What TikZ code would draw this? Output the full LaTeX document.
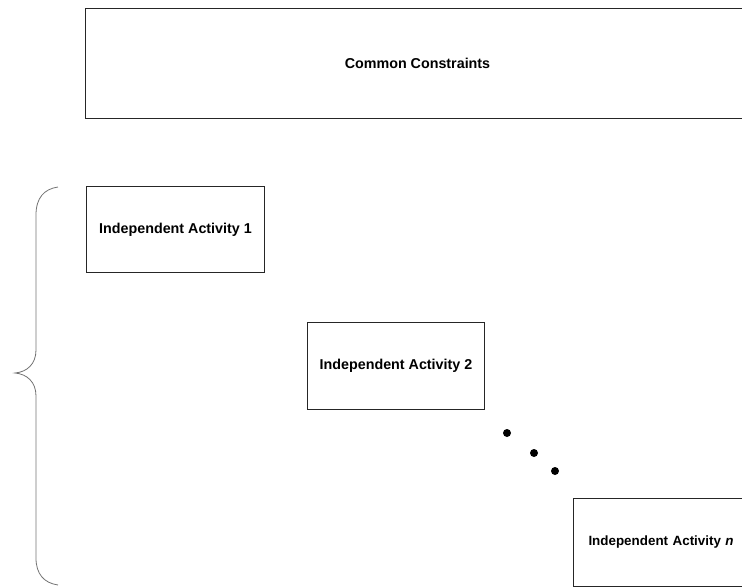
\documentclass[tikz,border=0pt]{standalone}
\usepackage{fontspec}
\setmainfont{Liberation Sans}
\begin{document}
\begin{tikzpicture}[x=1pt,y=1pt,
  box/.style={draw=black!85,line width=1pt,rectangle,inner sep=0pt,font=\bfseries\fontsize{14.3}{16}\selectfont},
  dotmark/.style={circle,fill=black,inner sep=0pt,minimum size=8pt},
  bracestyle/.style={draw=black!55,line width=0.8pt}]
\useasboundingbox (0,0) rectangle (742,-587);
\clip (0,0) rectangle (742,-587);
% common constraints box
\node[box,anchor=north west,minimum width=664,minimum height=110] (common) at (85,-8) {Common Constraints};
% activities
\node[box,anchor=north west,minimum width=178,minimum height=86] (a1) at (86,-186) {Independent Activity 1};
\node[box,anchor=north west,minimum width=177,minimum height=87] (a2) at (307,-322) {Independent Activity 2};
\node[box,anchor=north west,minimum width=200,minimum height=88,text width=190,align=left,inner xsep=0pt,
  font=\bfseries\fontsize{13.4}{15}\selectfont] (an) at (573,-498) {\hspace*{10pt}Independent Activity \textit{n}};
% dots
\node[dotmark] (d1) at (507,-433) {};
\node[dotmark] (d2) at (534,-453) {};
\node[dotmark] (d3) at (555,-471) {};
% brace
\coordinate (btop) at (58,-187);
\coordinate (btip) at (15,-373);
\coordinate (bbot) at (58,-585);
\draw[bracestyle] (btop) .. controls (44,-189) and (36,-198) .. (36,-215) -- (36,-350)
  .. controls (36,-364) and (27,-372) .. (btip)
  .. controls (27,-374) and (36,-382) .. (36,-396) -- (36,-558)
  .. controls (36,-574) and (44,-583) .. (bbot);
\end{tikzpicture}
\end{document}
